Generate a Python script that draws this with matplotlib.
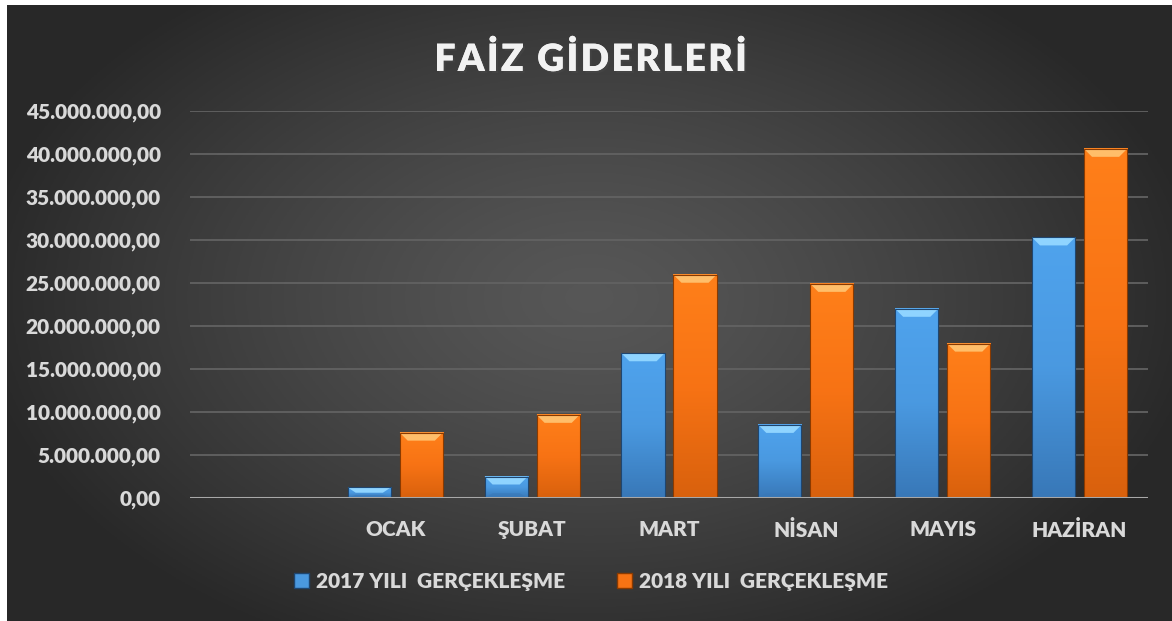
import numpy as np
import matplotlib.pyplot as plt
from matplotlib.patches import Polygon, Patch
import matplotlib.patheffects as pe

# data
months = ['', 'OCAK', 'ŞUBAT', 'MART', 'NİSAN', 'MAYIS', 'HAZİRAN']
y2017 = [0, 1.23e6, 2.5e6, 16.83e6, 8.5e6, 22.0e6, 30.3e6]
y2018 = [0, 7.6e6, 9.67e6, 25.96e6, 24.9e6, 17.95e6, 40.6e6]
label2017 = '2017 YILI  GERÇEKLEŞME'
label2018 = '2018 YILI  GERÇEKLEŞME'
title = 'FAİZ GİDERLERİ'
yticks = np.arange(0, 45e6 + 1, 5e6)

plt.rcParams['font.family'] = ['Lato', 'DejaVu Sans']
txt = '#d9d9d9'
wt = 'heavy'

W, H = 1172, 621
fig = plt.figure(figsize=(W / 100, H / 100), dpi=100, facecolor='white')

# dark radial background
bg = fig.add_axes([7 / W, 0, 1 - 7 / W, 1 - 5 / H])
bg.set_axis_off()
gx, gy = np.meshgrid(np.linspace(-1, 1, 400), np.linspace(-1, 1, 220))
r = np.clip(np.sqrt((gx / 1.05) ** 2 + ((gy + 0.05) / 1.25) ** 2), 0, 1)
shade = 0.34 - 0.18 * r ** 1.3
bg.imshow(np.dstack([shade] * 3), aspect='auto', extent=[0, 1, 0, 1])

ax = fig.add_axes([190 / W, 1 - 498 / H, (1148 - 190) / W, (498 - 111) / H])
ax.patch.set_alpha(0)
x = np.arange(len(months))
bw = 0.315
off = 0.19

def bevel_bars(xpos, vals, top, mid, bot, light, edge):
    bars = ax.bar(xpos, vals, bw, facecolor='none', edgecolor=edge, lw=0.8, zorder=4)
    dy = 8 * 45e6 / 387
    dx = 8 / 137
    grad = np.linspace(0, 1, 100)
    cmap = np.array([np.interp(grad, [0, 0.5, 1], [bot[i], mid[i], top[i]]) for i in range(3)]).T
    for b in bars:
        h = b.get_height()
        if h <= 0:
            continue
        x0, w = b.get_x(), b.get_width()
        ax.imshow(cmap[:, None, :], extent=[x0, x0 + w, 0, h], aspect='auto',
                  origin='lower', zorder=3)
        d = min(dy, h / 2)
        ax.add_patch(Polygon([(x0, h), (x0 + w, h), (x0 + w - dx, h - d), (x0 + dx, h - d)],
                             closed=True, facecolor=light, edgecolor='none', zorder=3.5))
        ax.add_patch(Polygon([(x0, 0), (x0 + w, 0), (x0 + w - dx, d * 0.6), (x0 + dx, d * 0.6)],
                             closed=True, facecolor=bot, edgecolor='none', alpha=0.6, zorder=3.5))
    return bars

blue_top, blue_mid, blue_bot = (0.31, 0.64, 0.93), (0.29, 0.60, 0.88), (0.22, 0.47, 0.72)
org_top, org_mid, org_bot = (1.0, 0.50, 0.10), (0.97, 0.45, 0.08), (0.85, 0.38, 0.05)
bevel_bars(x - off, y2017, blue_top, blue_mid, blue_bot, '#8fd4ff', '#1f4670')
bevel_bars(x + off, y2018, org_top, org_mid, org_bot, '#ffbe6a', '#8a3a00')

ax.set_xlim(-0.5, len(months) - 0.5)
ax.set_ylim(0, 45e6)
ax.set_yticks(yticks)
ax.set_yticklabels([f'{v:,.2f}'.replace(',', 'X').replace('.', ',').replace('X', '.') for v in yticks])
ax.set_xticks(x)
ax.set_xticklabels(months)
ax.grid(axis='y', color='#626262', lw=1.3, zorder=1)
ax.axhline(0, color='#a8a8a8', lw=2.2, zorder=5)
for s in ax.spines.values():
    s.set_visible(False)
ax.tick_params(length=0, colors=txt, labelsize=15)
ax.tick_params(axis='y', pad=21)
ax.tick_params(axis='x', pad=16)
for t in ax.get_xticklabels() + ax.get_yticklabels():
    t.set_fontweight(wt)

# letter-spaced title
fig.text(0.504, 0.905, '\u200a'.join(title), color='#f2f2f2', fontsize=27, fontweight=wt,
         ha='center', va='center',
         path_effects=[pe.withSimplePatchShadow(offset=(1.5, -1.5), alpha=0.5), pe.Normal()])

# legend
handles = [Patch(facecolor=blue_mid, edgecolor='#1f4670', label=label2017),
           Patch(facecolor=org_mid, edgecolor='#8a3a00', label=label2018)]
leg = fig.legend(handles=handles, loc='center', bbox_to_anchor=(0.504, 0.064), ncol=2,
                 frameon=False, fontsize=15, handlelength=0.75, handleheight=0.75,
                 handletextpad=0.3, columnspacing=2.5)
for t in leg.get_texts():
    t.set_color(txt)
    t.set_fontweight(wt)

fig.savefig('out.png', dpi=100, facecolor='white')
